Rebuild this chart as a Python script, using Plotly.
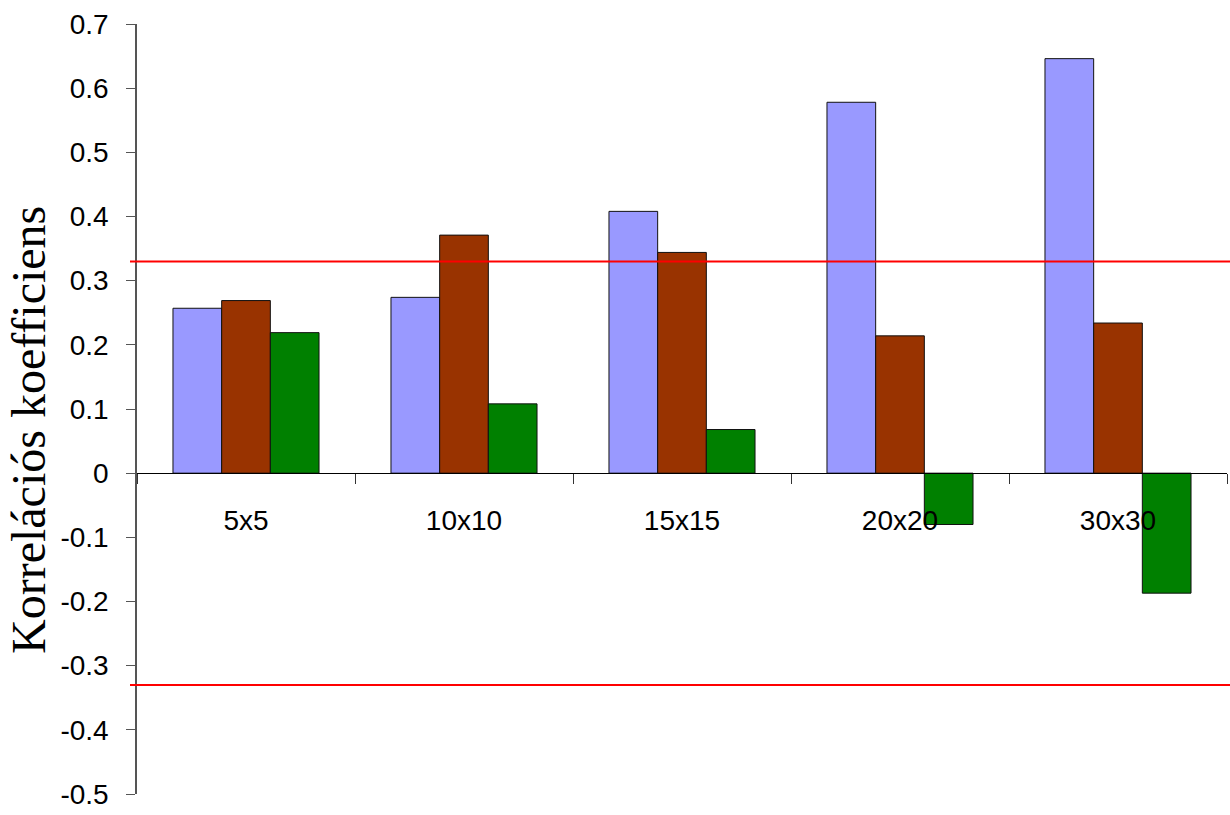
import plotly.graph_objects as go

# Grid sizes on the category axis
categories = ["5x5", "10x10", "15x15", "20x20", "30x30"]

# Correlation coefficients for the three series
series_a = [0.257, 0.274, 0.408, 0.578, 0.646]
series_b = [0.269, 0.371, 0.344, 0.214, 0.234]
series_c = [0.219, 0.108, 0.068, -0.080, -0.187]

# Significance threshold (drawn at +/-)
threshold = 0.33

# Value-axis ticks
y_tickvals = [0.7, 0.6, 0.5, 0.4, 0.3, 0.2, 0.1, 0.0, -0.1, -0.2, -0.3, -0.4, -0.5]
y_ticktext = ["0.7", "0.6", "0.5", "0.4", "0.3", "0.2", "0.1", "0",
              "-0.1", "-0.2", "-0.3", "-0.4", "-0.5"]

y_min, y_max = -0.5, 0.7

fig = go.Figure()
bar_line = dict(color="#111111", width=1)
fig.add_trace(go.Bar(x=categories, y=series_a, marker=dict(color="#9999FF", line=bar_line)))
fig.add_trace(go.Bar(x=categories, y=series_b, marker=dict(color="#993300", line=bar_line)))
fig.add_trace(go.Bar(x=categories, y=series_c, marker=dict(color="#008000", line=bar_line)))

W, H = 1230, 815
ml, mr, mt, mb = 137, 3, 24, 21
pw = W - ml - mr

for v in (threshold, -threshold):
    fig.add_shape(type="line", xref="paper", yref="y",
                  x0=-7 / pw, x1=1 + 3 / pw, y0=v, y1=v,
                  line=dict(color="#FF0000", width=2), layer="above")

fig.add_annotation(text="Korrelációs koefficiens", textangle=-90,
                   xref="paper", yref="paper",
                   x=(28 - ml) / pw, y=(H - mb - 430) / (H - mt - mb),
                   xanchor="center", yanchor="middle", showarrow=False,
                   font=dict(family="Liberation Serif, Times New Roman, serif",
                             size=48, color="#000000"))

fig.update_layout(
    width=W, height=H,
    margin=dict(l=ml, r=mr, t=mt, b=mb),
    paper_bgcolor="white", plot_bgcolor="white",
    barmode="group", bargap=0.33, bargroupgap=0,
    showlegend=False,
    font=dict(family="Liberation Sans, Arial, sans-serif", size=28, color="#000000"),
    xaxis=dict(
        type="category", range=[-0.5, 4.5],
        showline=True, linecolor="#000000", linewidth=1,
        anchor="free", position=(0 - y_min) / (y_max - y_min),
        ticks="outside", tickson="boundaries", ticklen=10, tickcolor="#333333",
        ticklabelstandoff=22,
        showgrid=False, zeroline=False,
        tickfont=dict(size=28),
    ),
    yaxis=dict(
        range=[y_min, y_max],
        tickvals=y_tickvals, ticktext=y_ticktext,
        showline=True, linecolor="#555555", linewidth=1.5,
        ticks="outside", ticklen=9, tickcolor="#555555",
        ticklabelstandoff=12,
        showgrid=False, zeroline=False,
        tickfont=dict(size=28),
    ),
)

fig.write_html("out.html")
